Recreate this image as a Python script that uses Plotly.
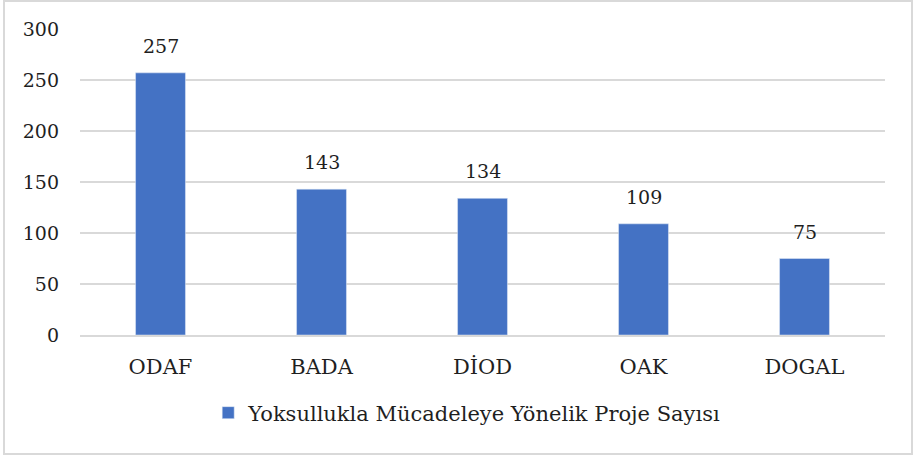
import plotly.graph_objects as go

categories = ["ODAF", "BADA", "DİOD", "OAK", "DOGAL"]
values = [257, 143, 134, 109, 75]
series_name = "Yoksullukla Mücadeleye Yönelik Proje Sayısı"

FONT = "'DejaVu Serif', serif"
FS = 19
FS_TXT = 21
COL = "#1f1f1f"
L, R, T, B = 80, 30, 29, 122
W, H = 915, 457
pw = W - L - R
ph = H - T - B

fig = go.Figure()
fig.add_trace(go.Bar(
    x=categories, y=values, name=series_name,
    marker=dict(color="#4472C4"),
    width=0.31,
))

for c, v in zip(categories, values):
    fig.add_annotation(x=c, y=v, text=str(v), showarrow=False,
                       yanchor="bottom", yshift=14,
                       font=dict(family=FONT, size=FS, color=COL))

def px_x(p):
    return (p - L) / pw

def px_y(p):
    return (H - B - p) / ph

fig.update_layout(
    width=W, height=H,
    margin=dict(l=L, r=R, t=T, b=B, autoexpand=False),
    plot_bgcolor="white", paper_bgcolor="white",
    font=dict(family=FONT, size=FS, color=COL),
    showlegend=True,
    legend=dict(orientation="h", x=0.481, xanchor="center", y=px_y(413), yanchor="middle",
                font=dict(family=FONT, size=FS_TXT, color=COL)),
    xaxis=dict(showgrid=False, showline=True, linecolor="#d9d9d9", linewidth=2,
               ticks="", ticklabelstandoff=12,
               tickfont=dict(family=FONT, size=FS_TXT, color=COL)),
    yaxis=dict(range=[0, 300], tickvals=[0, 50, 100, 150, 200, 250, 300],
               showgrid=True, gridcolor="#d9d9d9", gridwidth=1.5, zeroline=False,
               showline=False, ticks="", ticklabelstandoff=20,
               tickfont=dict(family=FONT, size=FS, color=COL)),
    shapes=[dict(type="rect", xref="paper", yref="paper",
                 x0=px_x(4), x1=px_x(912), y0=px_y(454), y1=px_y(1),
                 line=dict(color="#d9d9d9", width=2), fillcolor="rgba(0,0,0,0)")],
)

fig.write_html("out.html", config={"displayModeBar": False},
               post_script="document.body.style.margin='0';")
